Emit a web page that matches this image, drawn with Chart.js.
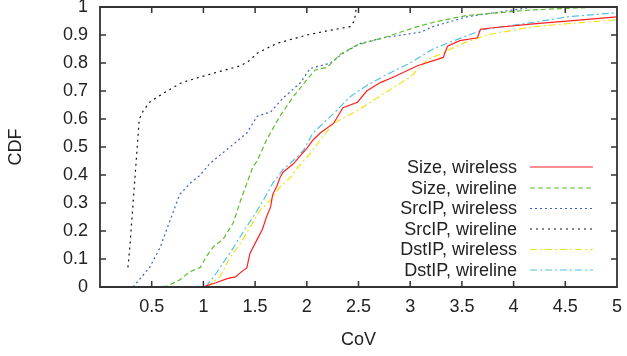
<!DOCTYPE html>
<html>
<head>
<meta charset="utf-8">
<script src="https://cdn.jsdelivr.net/npm/chart.js@4/dist/chart.umd.min.js"></script>
<style>
  html, body { margin: 0; padding: 0; background: #fff; }
  #wrap { width: 627px; height: 356px; }
</style>
</head>
<body>
<div id="wrap"><canvas id="c" width="627" height="356"></canvas></div>
<script>
// ---- data ----
const xTicks = [0, 0.5, 1, 1.5, 2, 2.5, 3, 3.5, 4, 4.5, 5];
const yTicks = [0, 0.1, 0.2, 0.3, 0.4, 0.5, 0.6, 0.7, 0.8, 0.9, 1];
const seriesNames = ["Size, wireless", "Size, wireline", "SrcIP, wireless", "SrcIP, wireline", "DstIP, wireless", "DstIP, wireline"];

const sizeWirelessX = [1.02, 1.12, 1.23, 1.31, 1.37, 1.42, 1.45, 1.52, 1.57, 1.61, 1.65, 1.67, 1.71, 1.74, 1.77, 1.87, 1.94, 2.0, 2.06, 2.13, 2.26, 2.35, 2.49, 2.58, 2.71, 2.84, 3.07, 3.32, 3.36, 3.48, 3.65, 3.68, 3.78, 4.19, 4.6, 5.0];
const sizeWirelessY = [0.003, 0.015, 0.03, 0.036, 0.055, 0.068, 0.12, 0.17, 0.205, 0.25, 0.286, 0.33, 0.36, 0.39, 0.41, 0.44, 0.47, 0.495, 0.525, 0.55, 0.585, 0.64, 0.66, 0.70, 0.73, 0.75, 0.79, 0.82, 0.86, 0.88, 0.89, 0.92, 0.925, 0.94, 0.952, 0.965];

const sizeWirelineX = [0.53, 0.65, 0.77, 0.87, 0.97, 1.03, 1.10, 1.19, 1.29, 1.36, 1.42, 1.48, 1.52, 1.61, 1.74, 1.87, 2.0, 2.08, 2.2, 2.32, 2.49, 2.74, 3.07, 3.22, 3.55, 4.19, 4.84, 5.0];
const sizeWirelineY = [0.0, 0.003, 0.025, 0.055, 0.07, 0.11, 0.145, 0.17, 0.23, 0.31, 0.37, 0.43, 0.45, 0.525, 0.61, 0.68, 0.74, 0.775, 0.785, 0.83, 0.865, 0.89, 0.93, 0.945, 0.97, 0.99, 1.0, 1.0];

const srcWirelessX = [0.32, 0.48, 0.58, 0.68, 0.77, 0.87, 0.97, 1.06, 1.19, 1.29, 1.42, 1.52, 1.65, 1.77, 1.94, 2.03, 2.23, 2.35, 2.52, 2.74, 3.1, 3.22, 3.55, 4.0, 4.2];
const srcWirelessY = [0.0, 0.07, 0.14, 0.24, 0.33, 0.37, 0.40, 0.44, 0.48, 0.51, 0.55, 0.61, 0.625, 0.675, 0.73, 0.78, 0.80, 0.835, 0.87, 0.89, 0.91, 0.93, 0.965, 0.99, 1.0];

const srcWirelineX = [0.27, 0.29, 0.31, 0.33, 0.35, 0.37, 0.38, 0.42, 0.48, 0.56, 0.65, 0.79, 0.97, 1.16, 1.36, 1.45, 1.52, 1.71, 2.0, 2.2, 2.42, 2.46, 2.48, 2.5];
const srcWirelineY = [0.07, 0.15, 0.25, 0.35, 0.45, 0.55, 0.60, 0.63, 0.66, 0.68, 0.70, 0.73, 0.75, 0.77, 0.79, 0.81, 0.835, 0.87, 0.90, 0.915, 0.93, 0.95, 1.0, 1.0];

const dstWirelessX = [1.03, 1.16, 1.26, 1.36, 1.45, 1.55, 1.65, 1.74, 1.84, 1.94, 2.03, 2.13, 2.26, 2.49, 2.74, 3.0, 3.16, 3.51, 3.74, 4.19, 5.0];
const dstWirelessY = [0.0, 0.036, 0.107, 0.157, 0.214, 0.275, 0.31, 0.357, 0.39, 0.44, 0.475, 0.525, 0.585, 0.63, 0.69, 0.75, 0.81, 0.87, 0.90, 0.93, 0.955];

const dstWirelineX = [1.02, 1.10, 1.19, 1.29, 1.39, 1.48, 1.58, 1.67, 1.77, 1.91, 1.97, 2.06, 2.26, 2.42, 2.58, 2.78, 3.0, 3.22, 3.39, 3.71, 4.19, 4.52, 5.0];
const dstWirelineY = [0.0, 0.036, 0.086, 0.14, 0.2, 0.25, 0.31, 0.37, 0.42, 0.465, 0.49, 0.55, 0.62, 0.68, 0.72, 0.76, 0.80, 0.85, 0.875, 0.92, 0.945, 0.965, 0.98];

// ---- styles ----
const colors = ["#ff2020", "#5cbf2a", "#3a5fc8", "#111111", "#f2e21a", "#4cc4e0"];
const dashes = [[], [5, 3], [2, 3], [2, 4], [7, 3, 2, 3], [7, 3, 2, 3]];
const xs = [sizeWirelessX, sizeWirelineX, srcWirelessX, srcWirelineX, dstWirelessX, dstWirelineX];
const ys = [sizeWirelessY, sizeWirelineY, srcWirelessY, srcWirelineY, dstWirelessY, dstWirelineY];

const datasets = seriesNames.map((name, i) => ({
  label: name,
  data: xs[i].map((x, k) => ({ x: x, y: ys[i][k] })),
  borderColor: colors[i],
  borderWidth: 1.2,
  borderDash: dashes[i],
  pointRadius: 0,
  tension: 0,
  fill: false
}));

const FONT = "'Liberation Sans', Arial, Helvetica, sans-serif";
const TXT = "#222222";
const AXIS = "#333333";

function drawFrame(chart) {
  const ctx = chart.ctx;
  const a = chart.chartArea;
  const sx = chart.scales.x, sy = chart.scales.y;
  ctx.save();
  ctx.setLineDash([]);
  ctx.strokeStyle = AXIS;
  ctx.lineWidth = 1.8;
  ctx.beginPath();
  ctx.moveTo(a.left, a.top); ctx.lineTo(a.right, a.top);
  ctx.lineTo(a.right, a.bottom); ctx.lineTo(a.left, a.bottom);
  ctx.closePath();
  ctx.stroke();
  const tl = 6;
  ctx.lineWidth = 1.5;
  ctx.beginPath();
  xTicks.forEach(v => {
    if (v <= 0 || v >= 5) return;
    const px = sx.getPixelForValue(v);
    ctx.moveTo(px, a.bottom); ctx.lineTo(px, a.bottom - tl);
    ctx.moveTo(px, a.top); ctx.lineTo(px, a.top + tl);
  });
  yTicks.forEach(v => {
    if (v <= 0 || v >= 1) return;
    const py = sy.getPixelForValue(v);
    ctx.moveTo(a.left, py); ctx.lineTo(a.left + tl, py);
    ctx.moveTo(a.right, py); ctx.lineTo(a.right - tl, py);
  });
  ctx.stroke();
  ctx.restore();
}

const framePlugin = {
  id: 'frame',
  afterDraw(chart) {
    drawFrame(chart);
    const ctx = chart.ctx;
    ctx.save();
    // key (legend), gnuplot style: text right-aligned, sample on the right
    const rowY = [167, 188, 208.5, 229, 249.5, 270];
    ctx.font = "18px " + FONT;
    ctx.textAlign = "right";
    ctx.textBaseline = "middle";
    chart.data.datasets.forEach((ds, i) => {
      const y = rowY[i];
      ctx.fillStyle = TXT;
      ctx.fillText(ds.label, 517, y + 1);
      ctx.strokeStyle = ds.borderColor;
      ctx.lineWidth = 1.2;
      ctx.setLineDash(ds.borderDash);
      ctx.beginPath();
      ctx.moveTo(530, y); ctx.lineTo(593, y);
      ctx.stroke();
    });
    ctx.restore();
  }
};

new Chart(document.getElementById('c'), {
  type: 'line',
  data: { datasets: datasets },
  options: {
    responsive: false,
    animation: false,
    devicePixelRatio: 1,
    layout: { padding: { top: 7, right: 10, left: 0, bottom: 0 } },
    plugins: { legend: { display: false }, tooltip: { enabled: false } },
    scales: {
      x: {
        type: 'linear',
        min: 0, max: 5,
        afterFit: s => { s.height = 69; s.paddingLeft = 0; s.paddingRight = 0; },
        afterBuildTicks: s => { s.ticks = xTicks.map(v => ({ value: v })); },
        grid: { display: false, drawTicks: false },
        border: { display: false },
        ticks: {
          padding: 9, color: TXT, font: { family: FONT, size: 18 },
          maxRotation: 0, autoSkip: false,
          callback: v => (v === 0 ? '' : String(v))
        },
        title: { display: true, text: 'CoV', color: TXT, font: { family: FONT, size: 18 }, padding: { top: 2, bottom: 5 } }
      },
      y: {
        type: 'linear',
        min: 0, max: 1,
        afterFit: s => { s.width = 100; s.paddingTop = 0; s.paddingBottom = 0; },
        afterBuildTicks: s => { s.ticks = yTicks.map(v => ({ value: v })); },
        grid: { display: false, drawTicks: false },
        border: { display: false },
        ticks: {
          padding: 12, color: TXT, font: { family: FONT, size: 18 }, autoSkip: false,
          callback: v => String(Math.round(v * 10) / 10)
        },
        title: { display: true, text: 'CDF', color: TXT, font: { family: FONT, size: 18 }, padding: { top: 5, bottom: 2 } }
      }
    }
  },
  plugins: [framePlugin]
});
</script>
</body>
</html>
